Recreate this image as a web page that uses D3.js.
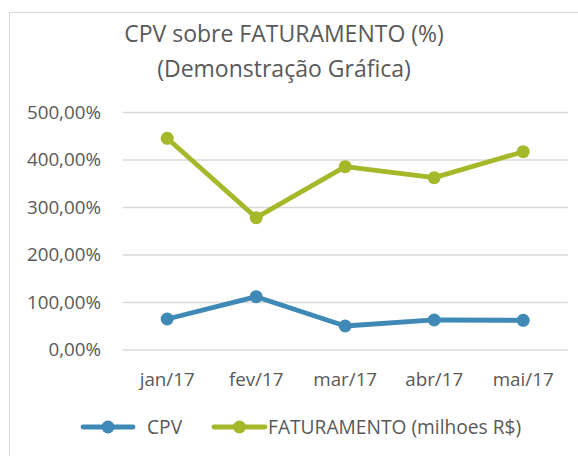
<!DOCTYPE html>
<html>
<head>
<meta charset="utf-8">
<script src="https://cdn.jsdelivr.net/npm/d3@7"></script>
<style>
  body { margin: 0; background: #fff; }
  text { font-family: "Open Sans", sans-serif; fill: #595959; }
</style>
</head>
<body>
<svg></svg>
<script>
const months = ["jan/17", "fev/17", "mar/17", "abr/17", "mai/17"];
const cpv = [65.3, 112.3, 50.5, 63.2, 62.5];
const faturamento = [445.7, 278.6, 386, 362.8, 417.5];
const yTicks = [0, 100, 200, 300, 400, 500];
const seriesNames = ["CPV", "FATURAMENTO (milhoes R$)"];

const width = 578, height = 456;
const blue = "#3f89b6", green = "#a5b82a";

const svg = d3.select("svg")
    .attr("width", width)
    .attr("height", height);

// chart border
svg.append("rect")
    .attr("x", 9.5).attr("y", 12.5)
    .attr("width", 600).attr("height", 480)
    .attr("fill", "none")
    .attr("stroke", "#d9d9d9");

// title
const title = svg.append("text")
    .attr("text-anchor", "middle")
    .style("font-size", "23px");
title.append("tspan").attr("x", 284).attr("y", 42).text("CPV sobre FATURAMENTO (%)");
title.append("tspan").attr("x", 284).attr("y", 77).text("(Demonstração Gráfica)");

const x = d3.scaleBand().domain(months).range([122.7, 567.7]);
const y = d3.scaleLinear().domain([0, 500]).range([350, 112.5]);

// gridlines
svg.append("g")
    .selectAll("line")
    .data(yTicks)
    .enter().append("line")
    .attr("x1", 122.7).attr("x2", 567.7)
    .attr("y1", d => y(d)).attr("y2", d => y(d))
    .attr("stroke", "#d9d9d9")
    .attr("stroke-width", 1.3);

// y axis labels
svg.append("g")
    .selectAll("text")
    .data(yTicks)
    .enter().append("text")
    .attr("x", 101)
    .attr("y", d => y(d) + 6)
    .attr("text-anchor", "end")
    .style("font-size", "18.8px")
    .text(d => d3.format(".2f")(d).replace(".", ",") + "%");

// x axis labels
svg.append("g")
    .selectAll("text")
    .data(months)
    .enter().append("text")
    .attr("x", d => x(d) + x.bandwidth() / 2)
    .attr("y", 386)
    .attr("text-anchor", "middle")
    .style("font-size", "18.8px")
    .text(d => d);

const line = d3.line()
    .x((d, i) => x(months[i]) + x.bandwidth() / 2)
    .y(d => y(d));

[[faturamento, green], [cpv, blue]].forEach(([vals, col]) => {
    svg.append("path")
        .datum(vals)
        .attr("d", line)
        .attr("fill", "none")
        .attr("stroke", col)
        .attr("stroke-width", 4.8)
        .attr("stroke-linejoin", "round")
        .attr("stroke-linecap", "round");
    svg.append("g")
        .selectAll("circle")
        .data(vals)
        .enter().append("circle")
        .attr("cx", (d, i) => x(months[i]) + x.bandwidth() / 2)
        .attr("cy", d => y(d))
        .attr("r", 6.5)
        .attr("fill", col);
});

// legend
const legend = [
    { name: seriesNames[0], color: blue, x1: 83, x2: 133, tx: 147 },
    { name: seriesNames[1], color: green, x1: 214, x2: 265, tx: 268 }
];
legend.forEach(l => {
    svg.append("line")
        .attr("x1", l.x1).attr("x2", l.x2)
        .attr("y1", 427).attr("y2", 427)
        .attr("stroke", l.color)
        .attr("stroke-width", 4.8)
        .attr("stroke-linecap", "round");
    svg.append("circle")
        .attr("cx", (l.x1 + l.x2) / 2).attr("cy", 427)
        .attr("r", 6.5)
        .attr("fill", l.color);
    svg.append("text")
        .attr("x", l.tx).attr("y", 434)
        .style("font-size", "19.2px")
        .text(l.name);
});
</script>
</body>
</html>
